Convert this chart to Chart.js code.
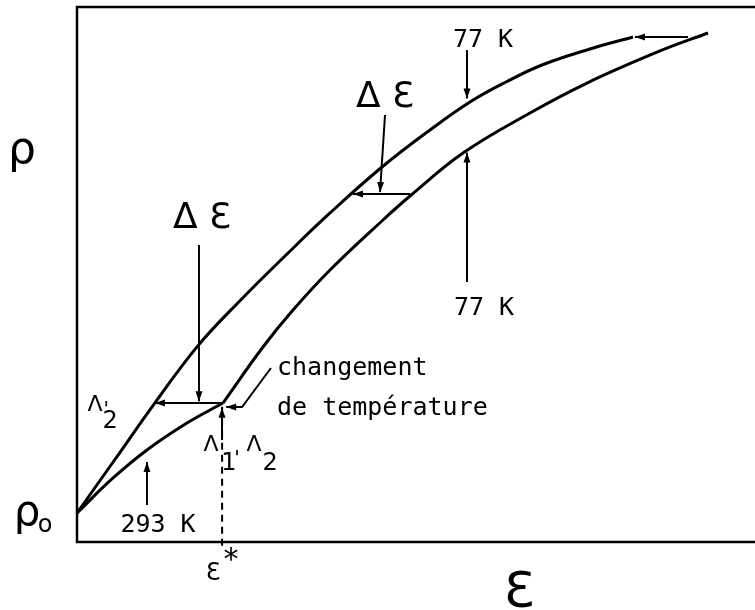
<!DOCTYPE html>
<html>
<head>
<meta charset="utf-8">
<script src="https://cdn.jsdelivr.net/npm/chart.js@4"></script>
<style>
html,body{margin:0;padding:0;background:#fff;}
#wrap{width:755px;height:610px;}
</style>
</head>
<body>
<div id="wrap"><canvas id="c" width="755" height="610"></canvas></div>
<script>
// ---- data (arbitrary units: strain ε 0..100, resistivity ρ 0..100) ----
const upperEps = [0, 5.75, 11.5, 17.85, 24.04, 30.68, 37.32, 44.99, 52.06, 57.96, 63.27, 68.58, 75.66, 82.0];
const upperRho = [5.42, 15.7, 26.0, 36.7, 45.1, 53.46, 61.5, 70.09, 77.0, 82.24, 85.98, 89.16, 92.15, 94.39];
const warmEps  = [0, 5.16, 10.32, 16.22, 21.53];
const warmRho  = [5.42, 11.78, 17.2, 22.24, 25.98];
const coldEps  = [21.53, 27.43, 31.86, 37.32, 45.13, 49.12, 56.93, 66.81, 75.22, 85.99, 93.07];
const coldRho  = [25.98, 36.45, 43.36, 50.84, 60.19, 64.67, 72.71, 80.19, 85.79, 91.78, 95.14];
const epsStar  = 21.4;

// arrows: polylines in data units, head at last point
const arrows = [
  [[21.53, 25.98], [11.5, 26.0]],          // ΔƐ horizontal (low)
  [[17.99, 55.51], [17.99, 26.3]],         // ΔƐ vertical (low)
  [[49.12, 65.05], [40.71, 65.05]],        // ΔƐ horizontal (high)
  [[45.43, 79.81], [44.69, 65.4]],         // ΔƐ vertical (high)
  [[90.12, 94.39], [82.3, 94.39]],         // top return arrow
  [[57.52, 91.96], [57.52, 82.9]],         // 77 K upper
  [[57.52, 48.6], [57.52, 72.8]],          // 77 K lower
  [[10.32, 6.92], [10.32, 14.95]],         // 293 K
  [[21.39, 19.07], [21.39, 25.1]],         // A1, A2
  [[28.61, 32.52], [24.34, 25.23], [22.0, 25.23]] // changement de température
];

const SANS = '"DejaVu Sans", sans-serif';
const MONO = '"DejaVu Sans Mono", monospace';
const texts = [
  {t:'Δ Ɛ', x:18.44, y:58.69, f:'36px '+SANS, a:'center'},
  {t:'Δ Ɛ', x:45.43, y:81.31, f:'36px '+SANS, a:'center'},
  {t:'77 K', x:59.88, y:92.52, f:'25px '+MONO, a:'center'},
  {t:'77 K', x:60.03, y:42.43, f:'25px '+MONO, a:'center'},
  {t:'changement', x:29.5, y:31.21, f:'25px '+MONO, a:'left'},
  {t:'de température', x:29.5, y:23.74, f:'25px '+MONO, a:'left'},
  {t:'293 K', x:11.95, y:1.87, f:'25px '+MONO, a:'center'},
  {t:'ρ', x:-8.11, y:70.84, f:'44px '+SANS, a:'center'},
  {t:'ρ', x:-7.37, y:3.18, f:'42px '+SANS, a:'center'},
  {t:'o', x:-4.72, y:1.87, f:'24px '+SANS, a:'center'},
  {t:'Ɛ', x:20.06, y:-7.10, f:'24px '+SANS, a:'center'},
  {t:'*', x:22.7, y:-5.0, f:'30px '+SANS, a:'center'},
  {t:'Ɛ', x:65.19, y:-12.15, f:'50px '+SANS, a:'center'},
  {t:'Λ', x:2.65, y:24.4, f:'22px '+SANS, a:'center'},
  {t:"'", x:4.3, y:23.8, f:'20px '+MONO, a:'center'},
  {t:'2', x:4.87, y:21.31, f:'24px '+SANS, a:'center'},
  {t:'Λ', x:19.76, y:17.0, f:'22px '+SANS, a:'center'},
  {t:'1', x:22.42, y:13.46, f:'24px '+SANS, a:'center'},
  {t:"'", x:23.6, y:14.6, f:'20px '+MONO, a:'center'},
  {t:'Λ', x:26.11, y:17.0, f:'22px '+SANS, a:'center'},
  {t:'2', x:28.47, y:13.46, f:'24px '+SANS, a:'center'}
];

const pts = (xs, ys) => xs.map((x, i) => ({x, y: ys[i]}));

const decor = {
  id: 'decor',
  afterDatasetsDraw(chart) {
    const ctx = chart.ctx, xs = chart.scales.x, ys = chart.scales.y, a = chart.chartArea;
    const P = (p) => [xs.getPixelForValue(p[0]), ys.getPixelForValue(p[1])];
    ctx.save();
    ctx.strokeStyle = '#000'; ctx.fillStyle = '#000';
    // frame (left, top, bottom)
    ctx.lineWidth = 2.5; ctx.lineCap = 'butt';
    ctx.beginPath();
    ctx.moveTo(a.right, a.top); ctx.lineTo(a.left, a.top);
    ctx.lineTo(a.left, a.bottom); ctx.lineTo(a.right, a.bottom);
    ctx.stroke();
    // dashed ε* line
    ctx.lineWidth = 2; ctx.setLineDash([7, 5]);
    const d0 = P([epsStar, 25.3]), d1 = P([epsStar, -0.9]);
    ctx.beginPath(); ctx.moveTo(d0[0], d0[1]); ctx.lineTo(d1[0], d1[1]); ctx.stroke();
    ctx.setLineDash([]);
    // arrows
    ctx.lineWidth = 2;
    arrows.forEach(arr => {
      const px = arr.map(P);
      ctx.beginPath();
      ctx.moveTo(px[0][0], px[0][1]);
      for (let i = 1; i < px.length; i++) ctx.lineTo(px[i][0], px[i][1]);
      ctx.stroke();
      const tip = px[px.length - 1], prev = px[px.length - 2];
      const ang = Math.atan2(tip[1] - prev[1], tip[0] - prev[0]);
      const L = 10, W = 3.5;
      ctx.beginPath();
      ctx.moveTo(tip[0], tip[1]);
      ctx.lineTo(tip[0] - L*Math.cos(ang) + W*Math.sin(ang), tip[1] - L*Math.sin(ang) - W*Math.cos(ang));
      ctx.lineTo(tip[0] - L*Math.cos(ang) - W*Math.sin(ang), tip[1] - L*Math.sin(ang) + W*Math.cos(ang));
      ctx.closePath(); ctx.fill();
    });
    // texts
    ctx.textBaseline = 'alphabetic';
    texts.forEach(o => {
      const p = P([o.x, o.y]);
      ctx.font = o.f; ctx.textAlign = o.a;
      ctx.fillText(o.t, p[0], p[1]);
    });
    ctx.restore();
  }
};

const lineDs = (data) => ({
  data, showLine: true, borderColor: '#000', borderWidth: 3, pointRadius: 0,
  fill: false, tension: 0.4
});

new Chart(document.getElementById('c'), {
  type: 'scatter',
  data: {
    datasets: [
      lineDs(pts(upperEps, upperRho)),
      lineDs(pts(warmEps, warmRho)),
      lineDs(pts(coldEps, coldRho))
    ]
  },
  options: {
    responsive: false,
    animation: false,
    layout: {padding: {left: 77, top: 7, right: 0, bottom: 68}},
    plugins: {legend: {display: false}, tooltip: {enabled: false}},
    scales: {
      x: {type: 'linear', min: 0, max: 100, display: false},
      y: {type: 'linear', min: 0, max: 100, display: false}
    }
  },
  plugins: [decor]
});
</script>
</body>
</html>
